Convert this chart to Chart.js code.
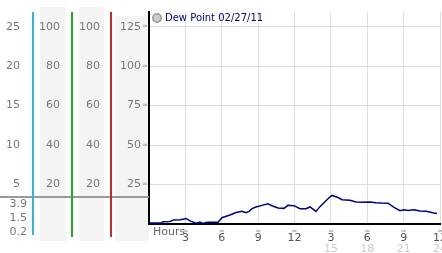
<!DOCTYPE html>
<html>
<head>
<meta charset="utf-8">
<script src="https://cdn.jsdelivr.net/npm/chart.js@4"></script>
<style>
html,body{margin:0;padding:0;background:#fff}
#wrap{width:442px;height:253px}
</style>
</head>
<body>
<div id="wrap"><canvas id="chart" width="442" height="253"></canvas></div>
<script>
// dew point readings, hours since midnight
const hours=[0,1,1.15,1.73,2.06,2.56,2.89,3.05,3.38,3.88,4.2,4.45,4.78,5.69,6.02,6.68,7.18,7.67,8,8.25,8.5,8.82,9.32,9.81,10.14,10.64,11.13,11.46,11.96,12.45,12.95,13.28,13.77,14.1,14.76,15.09,15.59,15.92,16.58,17.07,17.57,18.23,18.72,19.22,19.71,20.21,20.7,21.03,21.36,21.86,22.35,22.85,23.51,23.75]
const dewPoint=[0.6,0.6,1.5,1.6,2.6,2.7,3.2,3.5,2,0.5,1.2,0.4,1.1,1.1,4,5.7,7.3,8.1,7.1,8,9.7,10.8,11.8,12.8,11.6,10.1,9.9,11.8,11.6,9.7,9.7,10.8,8,11,16,18.1,16.8,15.4,15,13.9,13.7,13.9,13.5,13.3,13.2,10.5,8.4,9,8.6,9,8.2,8.1,7,6.7]

const legendLabel="Dew Point 02/27/11"

const col1Ticks=[5,10,15,20,25]
const col2Ticks=[20,40,60,80,100]
const col3Ticks=[20,40,60,80,100]
const mainTicks=[25,50,75,100,125]
const hourTicks=[3,6,9,12,15,18,21,24]
const precipLabels=["3.9","1.5","0.2"]

const MAX=134.3

Chart.defaults.font.family="'DejaVu Sans'"

function fixTicks(arr){
return function(scale){scale.ticks=arr.map(v=>({value:v}))}
}

function leftAxis(w,ticks,max,pad,weight,extra){
return Object.assign({
position:'left',
weight:weight,
min:0,
max:max,
afterBuildTicks:fixTicks(ticks),
afterFit:function(s){s.width=w;s.paddingTop=0;s.paddingBottom=0},
grid:{display:false,drawTicks:false},
border:{display:false},
ticks:{color:'#777',font:{size:11},padding:pad}
},extra||{})
}

const panel={
id:'panel',
afterLayout(chart){
// push the legend a little below the top of the plot
chart.legend.top+=8
chart.legend.bottom+=8
},
beforeDraw(chart){
const c=chart.ctx
const s=chart.scales
c.save()
c.fillStyle='#f4f4f4'
c.fillRect(s.c2.left+6,7,s.c2.width-12,234)
c.fillRect(s.c3.left+7,7,s.c3.width-14,234)
c.fillRect(s.y.left+4,16,s.y.width-4,225)
c.restore()
},
afterDraw(chart){
const c=chart.ctx
const s=chart.scales
const a=chart.chartArea
c.save()
// divider line across the side panel
c.fillStyle='#999'
c.fillRect(0,196,a.left,2)
// coloured column lines
const cols=[[s.c1.right-2,'#2fb4e0',235],[s.c2.right-1,'#22aa22',237],[s.c3.right-1,'#cc2a2a',237]]
cols.forEach(function(p){
c.fillStyle=p[1]
c.fillRect(p[0],12,2,p[2]-12)
})
// lower labels of first column
c.fillStyle='#777'
c.font="11px 'DejaVu Sans'"
c.textAlign='right'
c.textBaseline='middle'
precipLabels.forEach(function(t,i){c.fillText(t,27,204+i*14)})
// small drag marks
c.fillStyle='#999'
c.font="7px 'DejaVu Sans'"
c.textAlign='center'
s.y.ticks.forEach(function(t){c.fillText('≈',a.left-4,s.y.getPixelForValue(t.value))})
s.x.ticks.forEach(function(t){c.fillText('≈',s.x.getPixelForValue(t.value),231)})
c.fillStyle='#666'
c.font="11px 'DejaVu Sans'"
c.textAlign='left'
c.fillText('Hours',153,232)
c.restore()
}
}

new Chart(document.getElementById('chart'),{
type:'line',
data:{
datasets:[{
label:legendLabel,
data:hours.map((h,i)=>({x:h,y:dewPoint[i]})),
borderColor:'#000080',
borderWidth:1.5,
pointRadius:0,
pointBackgroundColor:'#cccccc',
pointBorderColor:'#999999',
tension:0,
yAxisID:'y',
xAxisID:'x'
}]
},
options:{
responsive:false,
animation:false,
layout:{padding:{top:12,right:2,left:0,bottom:0}},
plugins:{
legend:{
position:'chartArea',
align:'start',
labels:{
usePointStyle:true,
pointStyle:'circle',
boxWidth:6,
boxHeight:6,
padding:5,
color:'#000080',
font:{size:10}
}
},
tooltip:{enabled:false}
},
scales:{
c1:leftAxis(34,col1Ticks,MAX/5,14,3),
c2:leftAxis(38,col2Ticks,MAX*0.8,12,2),
c3:leftAxis(39,col3Ticks,MAX*0.8,11,1),
y:leftAxis(38,mainTicks,MAX,8,0,{
grid:{display:true,drawTicks:false,color:'#dddddd'},
border:{display:true,color:'#000',width:2}
}),
x:{
type:'linear',
position:'bottom',
min:0,
max:24,
weight:0,
afterBuildTicks:fixTicks(hourTicks),
afterFit:function(s){s.height=19;s.paddingLeft=0;s.paddingRight=0},
grid:{color:'#dddddd',drawTicks:false},
border:{color:'#000',width:2},
ticks:{color:'#555',font:{size:11},padding:8,maxRotation:0,callback:v=>v<=12?v:v-12}
},
x2:{
type:'linear',
position:'bottom',
min:0,
max:24,
weight:1,
afterBuildTicks:fixTicks(hourTicks),
afterFit:function(s){s.height=10;s.paddingLeft=0;s.paddingRight=0},
grid:{display:false,drawTicks:false},
border:{display:false},
ticks:{color:'#cccccc',font:{size:11},padding:0,maxRotation:0,callback:v=>v>12?v:''}
}
}
},
plugins:[panel]
})
</script>
</body>
</html>
